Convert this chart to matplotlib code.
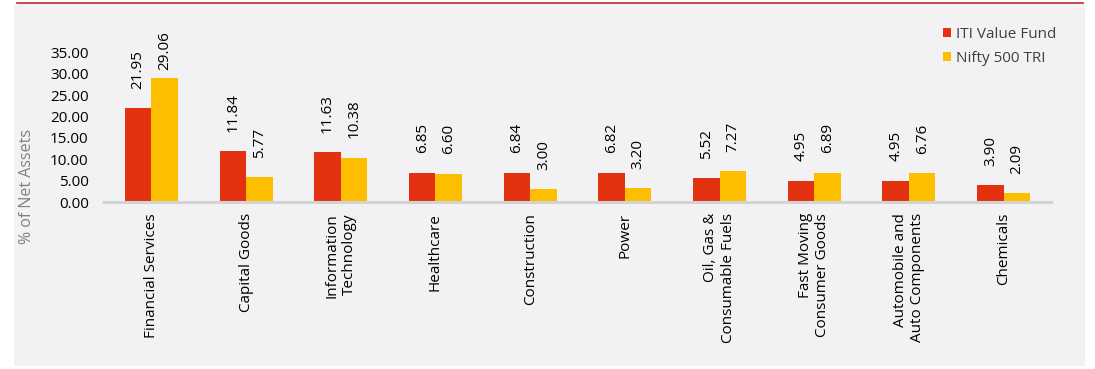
import numpy as np
import matplotlib
matplotlib.use("Agg")
import matplotlib.pyplot as plt
from matplotlib.patches import Rectangle
from matplotlib.lines import Line2D

plt.rcParams['font.family'] = ['Open Sans', 'DejaVu Sans']

# Data
sectors = ["Financial Services", "Capital Goods", "Information\nTechnology", "Healthcare",
           "Construction", "Power", "Oil, Gas &\nConsumable Fuels", "Fast Moving\nConsumer Goods",
           "Automobile and\nAuto Components", "Chemicals"]
iti_value = [21.95, 11.84, 11.63, 6.85, 6.84, 6.82, 5.52, 4.95, 4.95, 3.90]
nifty_500 = [29.06, 5.77, 10.38, 6.60, 3.00, 3.20, 7.27, 6.89, 6.76, 2.09]
yticks = [0, 5, 10, 15, 20, 25, 30, 35]

red = '#e3320f'
yellow = '#fdbe00'

W, H = 1095, 369
fig = plt.figure(figsize=(W / 100, H / 100), dpi=100, facecolor='white')

# grey panel + red top rule
fig.patches.append(Rectangle((14 / W, 1 - 366 / H), (1085 - 14) / W, (366 - 4) / H,
                             transform=fig.transFigure, fc='#f2f2f4', ec='none', zorder=-5))
fig.lines.append(Line2D([17 / W, 1083 / W], [1 - 2.5 / H, 1 - 2.5 / H],
                        transform=fig.transFigure, color='#c0272d', lw=1.2, zorder=-4))

ax = fig.add_axes([104 / W, 1 - 202 / H, (1051 - 104) / W, (202 - 52.6) / H])
ax.set_facecolor('none')

x = np.arange(len(sectors))
w = 0.28
b1 = ax.bar(x - w / 2, iti_value, w, color=red, label='ITI Value Fund', zorder=3)
b2 = ax.bar(x + w / 2, nifty_500, w, color=yellow, label='Nifty 500 TRI', zorder=3)

# value labels (the tallest one sits closer to its bar, as in the original)
top = max(max(iti_value), max(nifty_500))
for bars, vals in ((b1, iti_value), (b2, nifty_500)):
    for bar, v in zip(bars, vals):
        off = 6 if v == top else 14
        ax.annotate(f"{v:.2f}", (bar.get_x() + bar.get_width() / 2, v),
                    xytext=(0, off), textcoords='offset points', rotation=90,
                    ha='center', va='bottom', fontsize=11, color='black',
                    annotation_clip=False)

ax.set_xlim(-0.5, len(sectors) - 0.5)
ax.set_ylim(0, 35)
ax.set_yticks(yticks)
ax.set_yticklabels([f"{t:.2f}" for t in yticks], fontsize=11, color='black')
ax.set_xticks(x)
ax.set_xticklabels(sectors, rotation=90, fontsize=11, color='black',
                   va='top', ha='center', multialignment='right')
ax.tick_params(axis='y', length=0, pad=11)
ax.tick_params(axis='x', length=0, pad=8)

for s in ['top', 'right', 'left']:
    ax.spines[s].set_visible(False)
ax.spines['bottom'].set_color('#d3d3d3')
ax.spines['bottom'].set_linewidth(2.2)
ax.spines['bottom'].set_zorder(4)

fig.text(27 / W, 1 - 187 / H, "% of Net Assets", rotation=90, ha='center', va='center',
         fontsize=11.5, color='#808080')

fig.legend(handles=[b1, b2], loc='upper left', bbox_to_anchor=(935 / W, 1 - 19 / H),
           frameon=False, fontsize=11, handlelength=0.55, handleheight=0.55,
           handletextpad=0.35, labelspacing=0.6, borderpad=0, labelcolor='#404040')

fig.savefig('out.png', dpi=100, facecolor=fig.get_facecolor())
